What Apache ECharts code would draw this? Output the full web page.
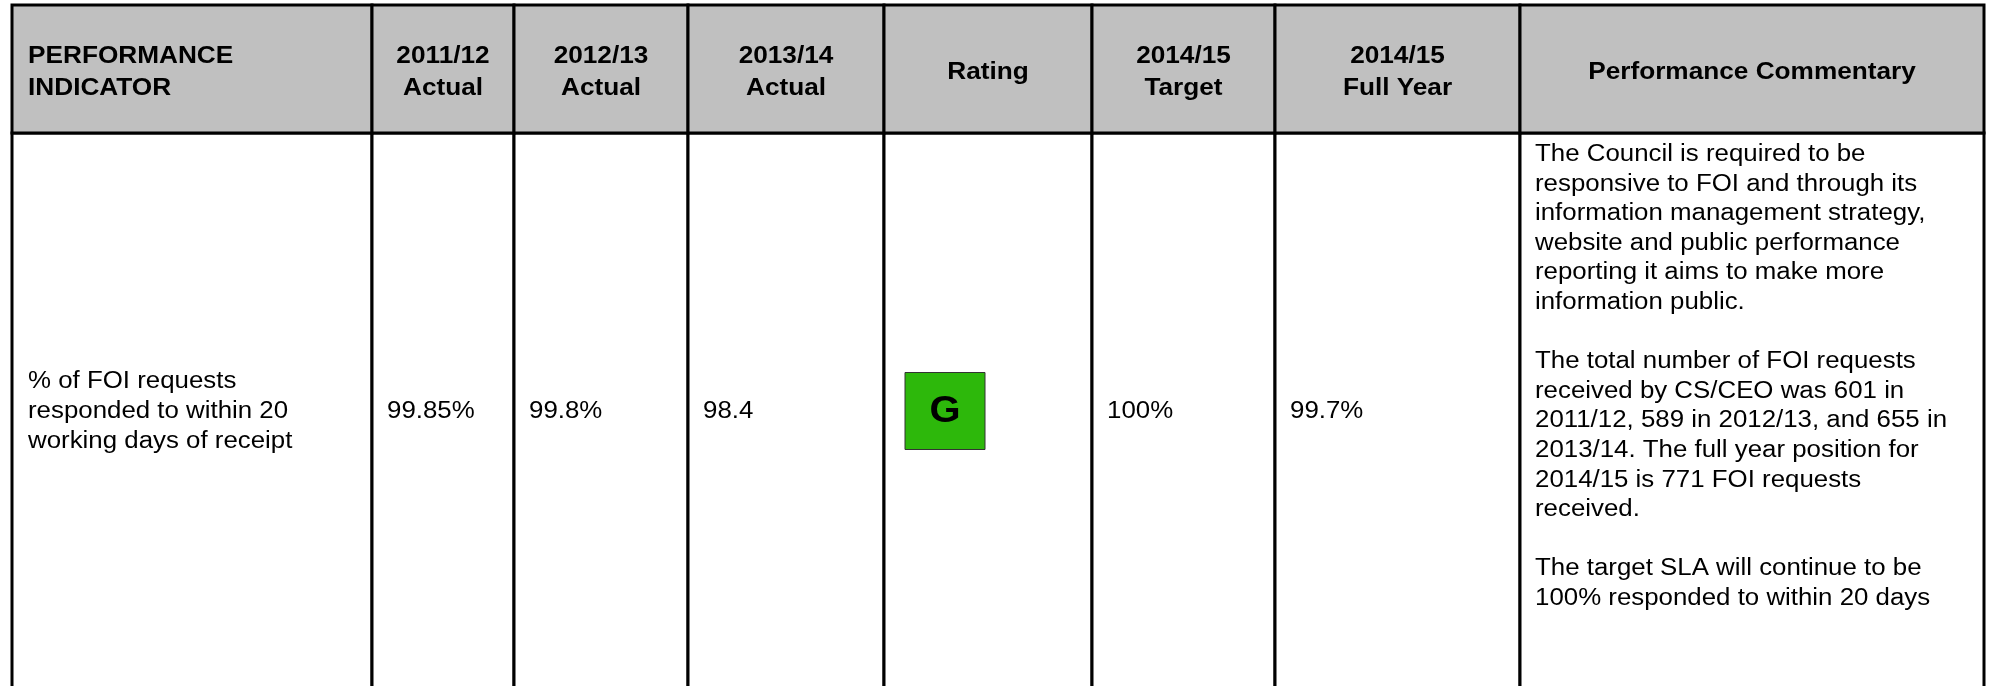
<!DOCTYPE html>
<html>
<head>
<meta charset="utf-8">
<title>FOI performance indicator</title>
<script src="https://cdn.jsdelivr.net/npm/echarts@6/dist/echarts.min.js"></script>
<style>
  html, body { margin: 0; padding: 0; background: #fff; }
  #chart { width: 1993px; height: 686px; }
</style>
</head>
<body>
<div id="chart"></div>
<script>
// table content
var headerLines = [
    ['PERFORMANCE', 'INDICATOR'],
    ['2011/12', 'Actual'],
    ['2012/13', 'Actual'],
    ['2013/14', 'Actual'],
    ['Rating'],
    ['2014/15', 'Target'],
    ['2014/15', 'Full Year'],
    ['Performance Commentary']
];
var indicatorLines = ['% of FOI requests', 'responded to within 20', 'working days of receipt'];
var rowValues = ['99.85%', '99.8%', '98.4', 'G', '100%', '99.7%'];
var ratingColors = { G: '#2db80b', A: '#ffbf00', R: '#e00000' };
var commentaryLines = [
    'The Council is required to be',
    'responsive to FOI and through its',
    'information management strategy,',
    'website and public performance',
    'reporting it aims to make more',
    'information public.',
    '',
    'The total number of FOI requests',
    'received by CS/CEO was 601 in',
    '2011/12, 589 in 2012/13, and 655 in',
    '2013/14. The full year position for',
    '2014/15 is 771 FOI requests',
    'received.',
    '',
    'The target SLA will continue to be',
    '100% responded to within 20 days'
];

// layout (pixels of the 1993x686 page)
var colEdges = [12, 372, 514, 688, 884, 1092, 1275, 1520, 1984];
var headTop = 5, headBottom = 133, bodyBottom = 692, rowMid = 411.5;
var FONT = '"Liberation Sans", Arial, Helvetica, sans-serif';
var border = 3;
// the source page is a little stretched sideways, so text is widened
var headStretch = 1.115, bodyStretch = 1.1;

function cellRect(api, i, y0, y1) {
    var a = api.coord([colEdges[i], y0]);
    var b = api.coord([colEdges[i + 1], y1]);
    return { x: a[0], y: a[1], width: b[0] - a[0], height: b[1] - a[1] };
}

function renderHeader(params, api) {
    var i = api.value(0);
    var r = cellRect(api, i, headTop, headBottom);
    var left = i === 0;
    return {
        type: 'group',
        children: [
            { type: 'rect', shape: r, style: { fill: '#c0c0c0', stroke: '#000', lineWidth: border } },
            {
                type: 'text',
                x: left ? r.x + 16 : r.x + r.width / 2,
                y: r.y + r.height / 2 + 3.5,
                scaleX: headStretch,
                style: {
                    text: headerLines[i].join('\n'),
                    fill: '#000',
                    fontFamily: FONT, fontWeight: 'bold', fontSize: 23.5,
                    lineHeight: 32,
                    align: left ? 'left' : 'center',
                    verticalAlign: 'middle'
                }
            }
        ]
    };
}

function renderBody(params, api) {
    var i = api.value(0);
    var r = cellRect(api, i, headBottom, bodyBottom);
    var midY = api.coord([0, rowMid])[1];
    var children = [
        { type: 'rect', shape: r, style: { fill: '#fff', stroke: '#000', lineWidth: border } }
    ];
    var txt = { fill: '#000', fontFamily: FONT, fontSize: 23.5, lineHeight: 29.6, align: 'left' };
    if (i === 0) {
        children.push({ type: 'text', x: r.x + 16, y: midY, scaleX: bodyStretch,
            style: Object.assign({ text: indicatorLines.join('\n'), verticalAlign: 'middle' }, txt) });
    } else if (i === headerLines.length - 1) {
        children.push({ type: 'text', x: r.x + 15, y: r.y + 6.7, scaleX: bodyStretch,
            style: Object.assign({ text: commentaryLines.join('\n'), verticalAlign: 'top' }, txt) });
    } else {
        var v = rowValues[i - 1];
        if (ratingColors[v]) {
            children.push({ type: 'rect',
                shape: { x: r.x + 21, y: midY - 39, width: 80, height: 77 },
                style: { fill: ratingColors[v], stroke: '#333', lineWidth: 1 } });
            children.push({ type: 'text', x: r.x + 21 + 40, y: midY + 0.5, scaleX: 1.08,
                style: { text: v, fill: '#000', fontFamily: FONT, fontWeight: 'bold', fontSize: 37,
                    align: 'center', verticalAlign: 'middle' } });
        } else {
            children.push({ type: 'text', x: r.x + 15, y: midY, scaleX: bodyStretch,
                style: Object.assign({ text: v, verticalAlign: 'middle' }, txt) });
        }
    }
    return { type: 'group', children: children };
}

var colIndex = headerLines.map(function (h, i) { return [i]; });

var chart = echarts.init(document.getElementById('chart'), null, { renderer: 'canvas' });
chart.setOption({
    backgroundColor: '#fff',
    animation: false,
    grid: { left: 0, right: 0, top: 0, bottom: 0 },
    xAxis: { type: 'value', min: 0, max: 1993, show: false },
    yAxis: { type: 'value', min: 0, max: 686, inverse: true, show: false },
    series: [
        { type: 'custom', name: 'body', clip: false, renderItem: renderBody, data: colIndex },
        { type: 'custom', name: 'header', clip: false, renderItem: renderHeader, data: colIndex }
    ]
});
</script>
</body>
</html>
